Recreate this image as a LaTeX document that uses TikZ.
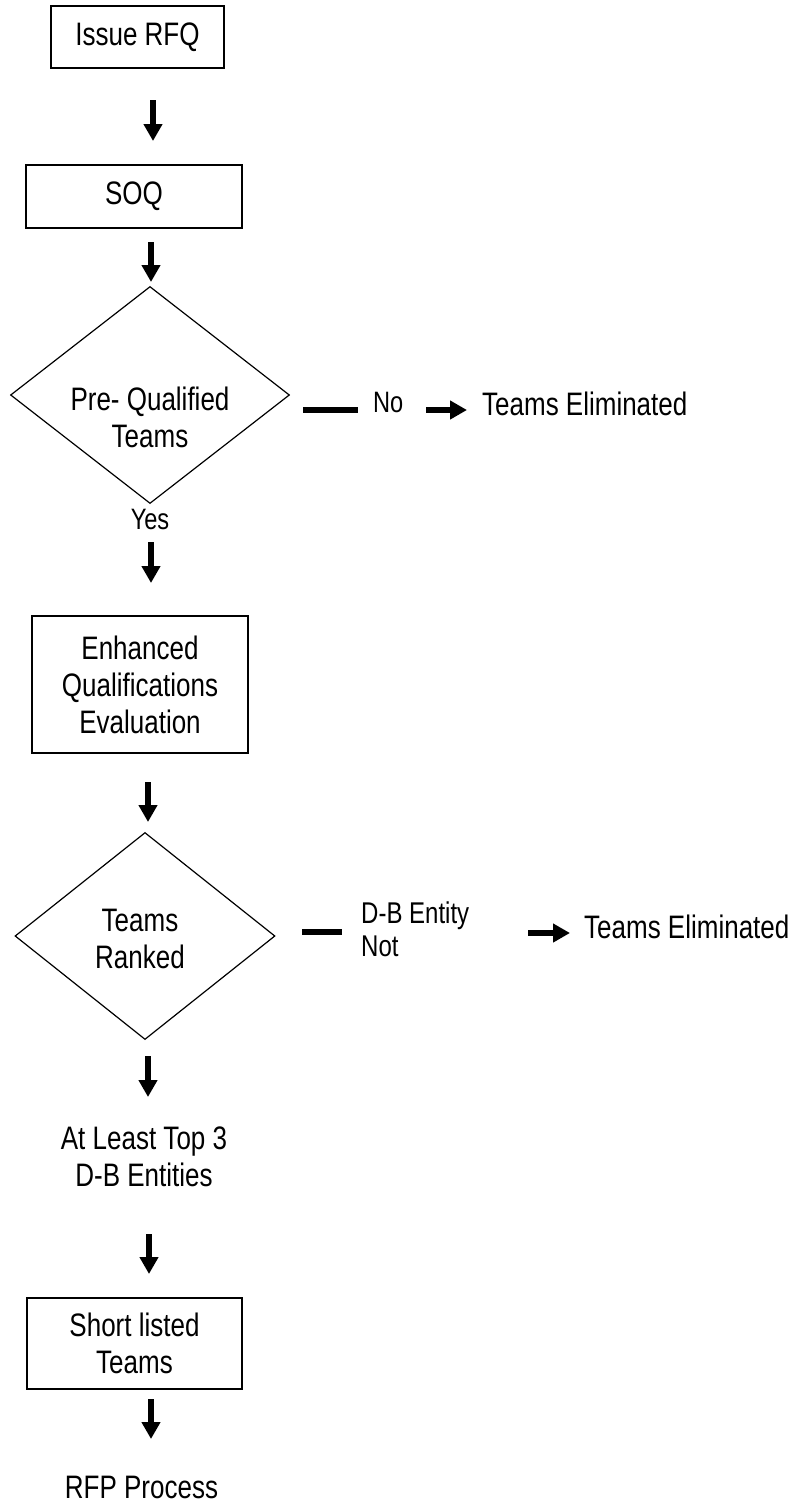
\documentclass[tikz,border=0pt]{standalone}
\usepackage{fontspec}
\setmainfont[FakeStretch=0.8]{Liberation Sans}
\usetikzlibrary{shapes.geometric,arrows.meta}
\newcommand\mainfnt{\fontsize{32.5pt}{37pt}\selectfont}
\newcommand\lblfnt{\fontsize{29.5pt}{33pt}\selectfont}
\newcommand\smlfnt{\fontsize{30pt}{33pt}\selectfont}
\begin{document}
\begin{tikzpicture}[x=1pt,y=-1pt,
  box/.style={draw, line width=1.6pt, rectangle, inner sep=0pt, align=center, font=\mainfnt},
  dia/.style={draw, line width=1.2pt, diamond, inner sep=0pt},
  txt/.style={inner sep=0pt, align=center, font=\mainfnt},
  lbl/.style={inner sep=0pt, font=\lblfnt},
  flow/.style={line width=6pt, -{Triangle[length=17pt,width=18pt]}},
  bar/.style={line width=6.5pt}]
\useasboundingbox (0,0) rectangle (799,1502);

% boxes
\node[box, minimum width=173pt, minimum height=62pt] (rfq) at (137.5,37) {Issue RFQ};
\node[box, minimum width=216pt, minimum height=63pt] (soq) at (134,196.5) {SOQ};
\node[dia, minimum width=279pt, minimum height=217pt] (d1) at (150,395) {};
\node[txt] (d1t) at (150,417) {Pre- Qualified\\Teams};
\node[lbl] (yes) at (150,519) {Yes};
\node[box, minimum width=216pt, minimum height=137pt] (enh) at (140,684.5) {Enhanced\\Qualifications\\Evaluation};
\node[dia, minimum width=260pt, minimum height=207pt] (d2) at (145,936) {};
\node[txt] (d2t) at (140,939) {Teams\\Ranked};
\node[txt] (top3) at (144,1157) {At Least Top 3\\D-B Entities};
\node[box, minimum width=215pt, minimum height=91pt] (short) at (134.5,1343.5) {Short listed\\Teams};
\node[txt] (rfp) at (141.5,1487) {RFP Process};

% side branches
\node[lbl, anchor=west] (no) at (373,402) {No};
\node[txt, anchor=west] (elim1) at (482,404) {Teams Eliminated};
\node[inner sep=0pt, font=\smlfnt, align=left, anchor=west] (dbn) at (361,929) {D-B Entity\\Not};
\node[txt, anchor=west] (elim2) at (584,927) {Teams Eliminated};

% vertical arrows
\coordinate (a1s) at (153,100); \coordinate (a1e) at (153,141);
\coordinate (a2s) at (151,242); \coordinate (a2e) at (151,282);
\coordinate (a3s) at (151,542); \coordinate (a3e) at (151,583);
\coordinate (a4s) at (148,782); \coordinate (a4e) at (148,822);
\coordinate (a5s) at (148,1056); \coordinate (a5e) at (148,1097);
\coordinate (a6s) at (149,1234); \coordinate (a6e) at (149,1274);
\coordinate (a7s) at (151,1399); \coordinate (a7e) at (151,1439);
\draw[flow] (a1s) -- (a1e);
\draw[flow] (a2s) -- (a2e);
\draw[flow] (a3s) -- (a3e);
\draw[flow] (a4s) -- (a4e);
\draw[flow] (a5s) -- (a5e);
\draw[flow] (a6s) -- (a6e);
\draw[flow] (a7s) -- (a7e);

% horizontal bars and arrows
\coordinate (b1s) at (303,410); \coordinate (b1e) at (358,410);
\coordinate (h1s) at (426,410); \coordinate (h1e) at (467,410);
\coordinate (b2s) at (302,932); \coordinate (b2e) at (342,932);
\coordinate (h2s) at (528,933); \coordinate (h2e) at (570,933);
\draw[bar] (b1s) -- (b1e);
\draw[flow] (h1s) -- (h1e);
\draw[bar] (b2s) -- (b2e);
\draw[flow] (h2s) -- (h2e);
\end{tikzpicture}
\end{document}
